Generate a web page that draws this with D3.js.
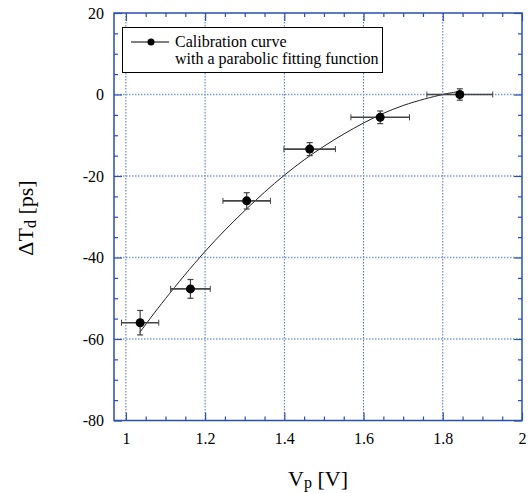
<!doctype html>
<html>
<head>
<meta charset="utf-8">
<title>calibration curve</title>
<style>
  body { margin: 0; background: #fff; }
</style>
</head>
<body>
<div id="chart"></div>
<script src="https://d3js.org/d3.v7.min.js"></script>
<script>
  // measured points with errors
  const vp = [1.036, 1.163, 1.305, 1.464, 1.642, 1.843];
  const dTd = [-56.0, -47.7, -26.1, -13.4, -5.6, 0.0];
  const vpErr = [0.047, 0.050, 0.060, 0.065, 0.074, 0.083];
  const dTdErr = [3.0, 2.3, 2.0, 1.6, 1.55, 1.4];

  // parabolic fit
  const fitVp = [1.035, 1.1, 1.2, 1.3, 1.4, 1.5, 1.6, 1.7, 1.8, 1.843];
  const fitTd = [-58.4, -50.1, -38.5, -28.5, -19.8, -12.7, -7.0, -2.7, 0.0, 0.7];

  const xTicks = [1, 1.2, 1.4, 1.6, 1.8, 2];
  const yTicks = [-80, -60, -40, -20, 0, 20];
  const xMinor = [1.05, 1.1, 1.15, 1.25, 1.3, 1.35, 1.45, 1.5, 1.55, 1.65, 1.7, 1.75, 1.85, 1.9, 1.95];
  const yMinor = [-75, -70, -65, -55, -50, -45, -35, -30, -25, -15, -10, -5, 5, 10, 15];

  const W = 529, H = 493;
  const pLeft = 114, pRight = 522, pTop = 13, pBottom = 420.5;
  const blue = '#2a4fb3';
  const serif = '"Liberation Serif", "Times New Roman", serif';

  const svg = d3.select('#chart').append('svg').attr('width', W).attr('height', H)
    .attr('font-family', serif);

  const x = d3.scaleLinear().domain([0.97, 2]).range([pLeft, pRight]);
  const y = d3.scaleLinear().domain([-80, 20]).range([pBottom, pTop]);

  // grid
  const grid = svg.append('g').attr('stroke', '#4a6fd0').attr('stroke-width', 1)
    .attr('stroke-dasharray', '1.5,1.5');
  grid.selectAll('line.gx').data(xTicks.filter(d => d < 2)).join('line').attr('class', 'gx')
    .attr('x1', d => x(d)).attr('x2', d => x(d)).attr('y1', pTop).attr('y2', pBottom);
  grid.selectAll('line.gy').data(yTicks.filter(d => d > -80 && d < 20)).join('line').attr('class', 'gy')
    .attr('x1', pLeft).attr('x2', pRight).attr('y1', d => y(d)).attr('y2', d => y(d))
    .attr('stroke', '#7f9be0').attr('stroke-width', 1.6);

  // axes
  const styleAxis = g => {
    g.attr('font-family', serif).attr('font-size', 16);
    g.select('.domain').remove();
    g.selectAll('.tick line').attr('stroke', blue).attr('stroke-width', 1.2);
    g.selectAll('.tick text').attr('fill', '#000');
  };
  svg.append('g').attr('transform', `translate(0,${pBottom})`)
    .call(d3.axisBottom(x).tickValues(xTicks).tickFormat(d => String(d)).tickSizeInner(-8).tickSizeOuter(0).tickPadding(12))
    .call(styleAxis);
  svg.append('g').attr('transform', `translate(0,${pBottom})`)
    .call(d3.axisBottom(x).tickValues(xMinor).tickFormat('').tickSizeInner(-4).tickSizeOuter(0))
    .call(styleAxis);
  svg.append('g').attr('transform', `translate(0,${pTop})`)
    .call(d3.axisTop(x).tickValues(xTicks).tickFormat('').tickSizeInner(-8).tickSizeOuter(0))
    .call(styleAxis);
  svg.append('g').attr('transform', `translate(0,${pTop})`)
    .call(d3.axisTop(x).tickValues(xMinor).tickFormat('').tickSizeInner(-4).tickSizeOuter(0))
    .call(styleAxis);
  svg.append('g').attr('transform', `translate(${pLeft},0)`)
    .call(d3.axisLeft(y).tickValues(yTicks).tickFormat(d => String(d)).tickSizeInner(-8).tickSizeOuter(0).tickPadding(10))
    .call(styleAxis);
  svg.append('g').attr('transform', `translate(${pLeft},0)`)
    .call(d3.axisLeft(y).tickValues(yMinor).tickFormat('').tickSizeInner(-4).tickSizeOuter(0))
    .call(styleAxis);
  svg.append('g').attr('transform', `translate(${pRight},0)`)
    .call(d3.axisRight(y).tickValues(yTicks).tickFormat('').tickSizeInner(-8).tickSizeOuter(0))
    .call(styleAxis);
  svg.append('g').attr('transform', `translate(${pRight},0)`)
    .call(d3.axisRight(y).tickValues(yMinor).tickFormat('').tickSizeInner(-4).tickSizeOuter(0))
    .call(styleAxis);

  // frame
  svg.append('rect').attr('x', pLeft).attr('y', pTop)
    .attr('width', pRight - pLeft).attr('height', pBottom - pTop)
    .attr('fill', 'none').attr('stroke', blue).attr('stroke-width', 1.5);

  // fit curve
  const fitData = fitVp.map((v, i) => [v, fitTd[i]]);
  svg.append('path').datum(fitData)
    .attr('fill', 'none').attr('stroke', '#222').attr('stroke-width', 1)
    .attr('d', d3.line().x(d => x(d[0])).y(d => y(d[1])).curve(d3.curveNatural));

  // error bars and points
  const pts = vp.map((v, i) => ({ x: v, y: dTd[i], ex: vpErr[i], ey: dTdErr[i] }));
  const eb = svg.append('g').attr('stroke', '#444').attr('stroke-width', 1.6);
  pts.forEach(p => {
    const cx = x(p.x), cy = y(p.y);
    const x0 = x(p.x - p.ex), x1 = x(p.x + p.ex);
    const y0 = y(p.y - p.ey), y1 = y(p.y + p.ey);
    eb.append('line').attr('x1', x0).attr('x2', x1).attr('y1', cy).attr('y2', cy);
    eb.append('line').attr('x1', x0).attr('x2', x0).attr('y1', cy - 3).attr('y2', cy + 3).attr('stroke-width', 1);
    eb.append('line').attr('x1', x1).attr('x2', x1).attr('y1', cy - 3).attr('y2', cy + 3).attr('stroke-width', 1);
    eb.append('line').attr('x1', cx).attr('x2', cx).attr('y1', y0).attr('y2', y1).attr('stroke-width', 1.2);
    eb.append('line').attr('x1', cx - 3).attr('x2', cx + 3).attr('y1', y0).attr('y2', y0).attr('stroke-width', 1.2);
    eb.append('line').attr('x1', cx - 3).attr('x2', cx + 3).attr('y1', y1).attr('y2', y1).attr('stroke-width', 1.2);
  });
  svg.append('g').selectAll('circle').data(pts).join('circle')
    .attr('cx', d => x(d.x)).attr('cy', d => y(d.y)).attr('r', 4.5).attr('fill', '#000');

  // legend
  const lg = svg.append('g').attr('font-family', serif).attr('font-size', 16);
  lg.append('rect').attr('x', 122.5).attr('y', 27.5).attr('width', 260).attr('height', 45)
    .attr('fill', '#fff').attr('stroke', '#000').attr('stroke-width', 1);
  lg.append('line').attr('x1', 131).attr('x2', 169).attr('y1', 42).attr('y2', 42)
    .attr('stroke', '#000').attr('stroke-width', 1);
  lg.append('circle').attr('cx', 151).attr('cy', 42).attr('r', 3.5).attr('fill', '#000');
  lg.append('text').attr('x', 175).attr('y', 47).text('Calibration curve');
  lg.append('text').attr('x', 175).attr('y', 63.5).text('with a parabolic fitting function');

  // axis titles
  const xt = svg.append('text').attr('x', (pLeft + pRight) / 2).attr('y', 486)
    .attr('text-anchor', 'middle').attr('font-size', 22);
  xt.append('tspan').text('V');
  xt.append('tspan').attr('dy', 2).attr('font-size', 16).text('p');
  xt.append('tspan').attr('dy', -2).text(' [V]');

  const yt = svg.append('text').attr('transform', 'translate(33,218) rotate(-90)')
    .attr('text-anchor', 'middle').attr('font-size', 22);
  yt.append('tspan').text('ΔT');
  yt.append('tspan').attr('dy', 3).attr('font-size', 16).text('d');
  yt.append('tspan').attr('dy', -3).text(' [ps]');
</script>
</body>
</html>
